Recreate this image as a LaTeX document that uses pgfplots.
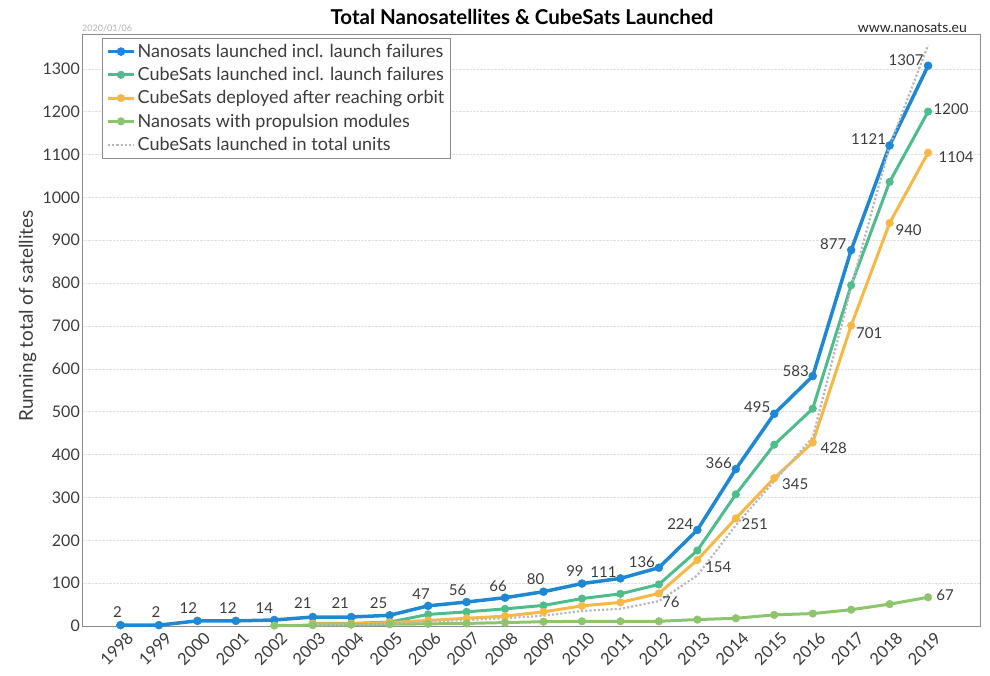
\documentclass[border=0pt]{standalone}
\usepackage{fontspec}
\setmainfont{Lato}
\usepackage{pgfplots}
\pgfplotsset{compat=1.18}
\definecolor{cblue}{HTML}{1E88D5}
\definecolor{cteal}{HTML}{4CBD8B}
\definecolor{corange}{HTML}{F8B846}
\definecolor{cgreen}{HTML}{8DC56C}
\definecolor{cgray}{HTML}{B8B8BE}
\definecolor{ctext}{HTML}{3C3C3C}
\begin{document}
\begin{tikzpicture}[lbl/.style={font=\fontsize{15}{17}\selectfont, text=ctext, inner sep=0pt, anchor=center}]
\useasboundingbox (-82pt,-49pt) rectangle (908pt,626pt);
\begin{axis}[
  at={(0pt,0pt)}, anchor=south west, scale only axis,
  width=898pt, height=592pt,
  xmin=1997, xmax=2020.35, ymin=0, ymax=1381,
  xtick={1998,...,2019}, ytick={0,100,...,1300},
  /pgf/number format/assume math mode=true,
  /pgf/number format/1000 sep={},
  xticklabel style={xshift=10pt, yshift=-9pt, rotate=45, anchor=east, inner sep=0pt, font=\fontsize{16.5}{18}\selectfont, text=ctext},
  yticklabel style={inner sep=0pt, xshift=-2pt, font=\fontsize{16}{18}\selectfont, text=ctext},
  ymajorgrids, grid style={densely dotted, black!12},
  axis line style={black!45}, tick style={draw=none},
  ylabel={Running total of satellites},
  ylabel style={at={(axis description cs:-0.0546,0.524)}, anchor=base, font=\fontsize{19}{21}\selectfont, text=ctext},
  legend style={at={(axis description cs:0.0223,0.9932)}, anchor=north west, draw=black!45, fill=white,
    font=\fontsize{18}{20}\selectfont, text=ctext, row sep=4.5pt, inner sep=4pt},
  legend cell align=left,
  legend image code/.code={\draw[mark repeat=2,mark phase=2,#1] plot coordinates {(0pt,0pt) (13pt,0pt) (26pt,0pt)};},
  clip=false,
]
\addplot[cblue, line width=3.5pt, mark=*, mark size=4pt, mark options={line width=0.5pt}] coordinates {
(1998,2) (1999,2) (2000,12) (2001,12) (2002,14) (2003,21) (2004,21) (2005,25) (2006,47) (2007,56) (2008,66) (2009,80) (2010,99) (2011,111) (2012,136) (2013,224) (2014,366) (2015,495) (2016,583) (2017,877) (2018,1121) (2019,1307)};
\addlegendentry{Nanosats launched incl. launch failures}
\addplot[cteal, line width=3pt, mark=*, mark size=3.8pt, mark options={line width=0.5pt}] coordinates {
(2003,6) (2004,6) (2005,9) (2006,27) (2007,33) (2008,40) (2009,48) (2010,64) (2011,75) (2012,97) (2013,176) (2014,307) (2015,423) (2016,507) (2017,795) (2018,1036) (2019,1200)};
\addlegendentry{CubeSats launched incl. launch failures}
\addplot[corange, line width=3pt, mark=*, mark size=3.8pt, mark options={line width=0.5pt}] coordinates {
(2003,5) (2004,5) (2005,8) (2006,13) (2007,18) (2008,23) (2009,33) (2010,47) (2011,55) (2012,76) (2013,154) (2014,251) (2015,345) (2016,428) (2017,701) (2018,940) (2019,1104)};
\addlegendentry{CubeSats deployed after reaching orbit}
\addplot[cgreen, line width=3pt, mark=*, mark size=3.8pt, mark options={line width=0.5pt}] coordinates {
(2002,1) (2003,2) (2004,3) (2005,4) (2006,5) (2007,6) (2008,8) (2009,10) (2010,11) (2011,11) (2012,11) (2013,15) (2014,18) (2015,26) (2016,29) (2017,38) (2018,51) (2019,67)};
\addlegendentry{Nanosats with propulsion modules}
\addplot[cgray, line width=2.2pt, dotted, no marks] coordinates {
(2003,3) (2004,3) (2005,5) (2006,10) (2007,14) (2008,18) (2009,24) (2010,35) (2011,40) (2012,58) (2013,118) (2014,235) (2015,338) (2016,440) (2017,790) (2018,1120) (2019,1355)};
\addlegendentry{CubeSats launched in total units}
% blue labels
\node[lbl, xshift=-3pt, yshift=13pt] at (axis cs:1998,2) {2};
\node[lbl, xshift=-3pt, yshift=13pt] at (axis cs:1999,2) {2};
\node[lbl, xshift=-9pt, yshift=13pt] at (axis cs:2000,12) {12};
\node[lbl, xshift=-8pt, yshift=13pt] at (axis cs:2001,12) {12};
\node[lbl, xshift=-10pt, yshift=12pt] at (axis cs:2002,14) {14};
\node[lbl, xshift=-10pt, yshift=14pt] at (axis cs:2003,21) {21};
\node[lbl, xshift=-11pt, yshift=14pt] at (axis cs:2004,21) {21};
\node[lbl, xshift=-11pt, yshift=12pt] at (axis cs:2005,25) {25};
\node[lbl, xshift=-7pt, yshift=12pt] at (axis cs:2006,47) {47};
\node[lbl, xshift=-9pt, yshift=12pt] at (axis cs:2007,56) {56};
\node[lbl, xshift=-7pt, yshift=12pt] at (axis cs:2008,66) {66};
\node[lbl, xshift=-8pt, yshift=13pt] at (axis cs:2009,80) {80};
\node[lbl, xshift=-7pt, yshift=12pt] at (axis cs:2010,99) {99};
\node[lbl, xshift=-17pt, yshift=6pt] at (axis cs:2011,111) {111};
\node[lbl, xshift=-17pt, yshift=6pt] at (axis cs:2012,136) {136};
\node[lbl, xshift=-17pt, yshift=6pt] at (axis cs:2013,224) {224};
\node[lbl, xshift=-17pt, yshift=6pt] at (axis cs:2014,366) {366};
\node[lbl, xshift=-17pt, yshift=7pt] at (axis cs:2015,495) {495};
\node[lbl, xshift=-17pt, yshift=5pt] at (axis cs:2016,583) {583};
\node[lbl, xshift=-18pt, yshift=6pt] at (axis cs:2017,877) {877};
\node[lbl, xshift=-21pt, yshift=6pt] at (axis cs:2018,1121) {1121};
\node[lbl, xshift=-22pt, yshift=6pt] at (axis cs:2019,1307) {1307};
% teal
\node[lbl, xshift=23pt, yshift=2pt] at (axis cs:2019,1200) {1200};
% orange
\node[lbl, xshift=12pt, yshift=-9pt] at (axis cs:2012,76) {76};
\node[lbl, xshift=21pt, yshift=-7pt] at (axis cs:2013,154) {154};
\node[lbl, xshift=19pt, yshift=-6pt] at (axis cs:2014,251) {251};
\node[lbl, xshift=21pt, yshift=-6pt] at (axis cs:2015,345) {345};
\node[lbl, xshift=21pt, yshift=-6pt] at (axis cs:2016,428) {428};
\node[lbl, xshift=18pt, yshift=-8pt] at (axis cs:2017,701) {701};
\node[lbl, xshift=19pt, yshift=-7pt] at (axis cs:2018,940) {940};
\node[lbl, xshift=28pt, yshift=-4pt] at (axis cs:2019,1104) {1104};
% propulsion
\node[lbl, xshift=17pt, yshift=2pt] at (axis cs:2019,67) {67};
% titles
\node[font=\bfseries\fontsize{20.5}{22}\selectfont, text=black, anchor=base] at (axis description cs:0.49,1.0) [yshift=9pt] {Total Nanosatellites \& CubeSats Launched};
\node[font=\fontsize{9}{11}\selectfont, text=black!30, anchor=south west, inner sep=0pt] at (axis description cs:0,1) [yshift=1.5pt] {2020/01/06};
\node[font=\fontsize{14}{16}\selectfont, text=black!85, anchor=south east, inner sep=0pt] at (axis description cs:0.9855,1) [yshift=1.5pt] {www.nanosats.eu};
\end{axis}
\end{tikzpicture}
\end{document}
